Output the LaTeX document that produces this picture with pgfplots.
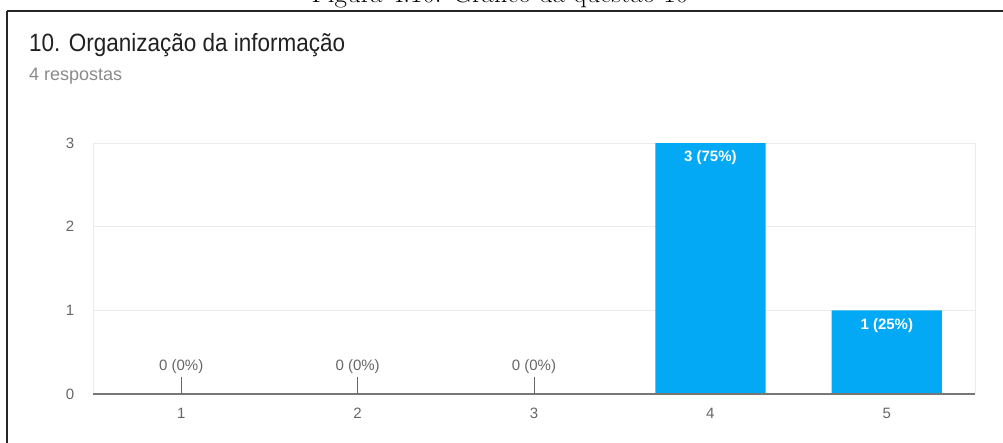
\documentclass[border=0pt]{standalone}
\usepackage{pgfplots}
\pgfplotsset{compat=1.18}
\usepackage{fontspec}
\setmainfont{Liberation Sans}
\newfontfamily\lmr{Latin Modern Roman}
\newfontfamily\titlef[FakeStretch=0.9]{Liberation Sans}
\definecolor{barblue}{HTML}{03A9F4}
\definecolor{lbl}{HTML}{666666}
\definecolor{gridc}{HTML}{EBEBEB}
\definecolor{axisc}{HTML}{777777}
\definecolor{titlec}{HTML}{212121}
\definecolor{subc}{HTML}{8A8A8A}
\begin{document}
\begin{tikzpicture}[x=1pt,y=1pt]
\useasboundingbox (0,0) rectangle (1003,-443);
\clip (0,0) rectangle (1003,-443);
\node[anchor=base, inner sep=0pt, font=\lmr\fontsize{27}{27}\selectfont] at (500,-3) {Figura 4.10: Gráfico da questão 10};
\draw[line width=1.4pt, black!85] (7,-11) -- (1030,-11);
\draw[line width=1.4pt, black!85] (7,-11) -- (7,-470);
\node[anchor=base west, inner sep=0pt, text=titlec, font=\titlef\fontsize{25}{25}\selectfont] at (29,-52) {10. Organização da informação};
\node[anchor=base west, inner sep=0pt, text=subc, font=\fontsize{18}{18}\selectfont] at (29,-81) {4 respostas};
\begin{axis}[
  at={(93pt,-394pt)}, anchor=south west,
  scale only axis, width=882pt, height=251pt,
  xmin=0.5, xmax=5.5, ymin=0, ymax=3,
  axis line style={draw=none},
  xtick={1,2,3,4,5}, ytick={0,1,2,3},
  tick style={draw=none},
  ymajorgrids, grid style={color=gridc, line width=1pt},
  /pgf/number format/assume math mode=true,
  tick label style={text=lbl, font=\fontsize{15}{15}\selectfont},
  xticklabel style={anchor=center, yshift=-19pt},
  yticklabel style={anchor=center, xshift=-23pt},
  clip=false,
]
\draw[gridc, line width=1pt] (axis cs:0.5,0) -- (axis cs:0.5,3);
\draw[gridc, line width=1pt] (axis cs:5.5,0) -- (axis cs:5.5,3);
\addplot[ybar, bar width=0.625, fill=barblue, draw=none] coordinates {(1,0) (2,0) (3,0) (4,3) (5,1)};
\draw[axisc, line width=1.5pt] (axis cs:0.5,0) -- (axis cs:5.5,0);
\draw[lbl, line width=0.8pt] (axis cs:1,0) -- (axis cs:1,0.205);
\draw[lbl, line width=0.8pt] (axis cs:2,0) -- (axis cs:2,0.205);
\draw[lbl, line width=0.8pt] (axis cs:3,0) -- (axis cs:3,0.205);
\addplot[draw=none, mark=none, point meta=explicit symbolic, nodes near coords,
  every node near coord/.style={anchor=center, yshift=-15pt, text=white, font=\bfseries\fontsize{15}{15}\selectfont}]
  coordinates {(4,3) [3 (75\%)] (5,1) [1 (25\%)]};
\addplot[draw=none, mark=none, point meta=explicit symbolic, nodes near coords,
  every node near coord/.style={anchor=center, yshift=27pt, text=lbl, font=\fontsize{15}{15}\selectfont}]
  coordinates {(1,0) [0 (0\%)] (2,0) [0 (0\%)] (3,0) [0 (0\%)]};
\end{axis}
\end{tikzpicture}
\end{document}
